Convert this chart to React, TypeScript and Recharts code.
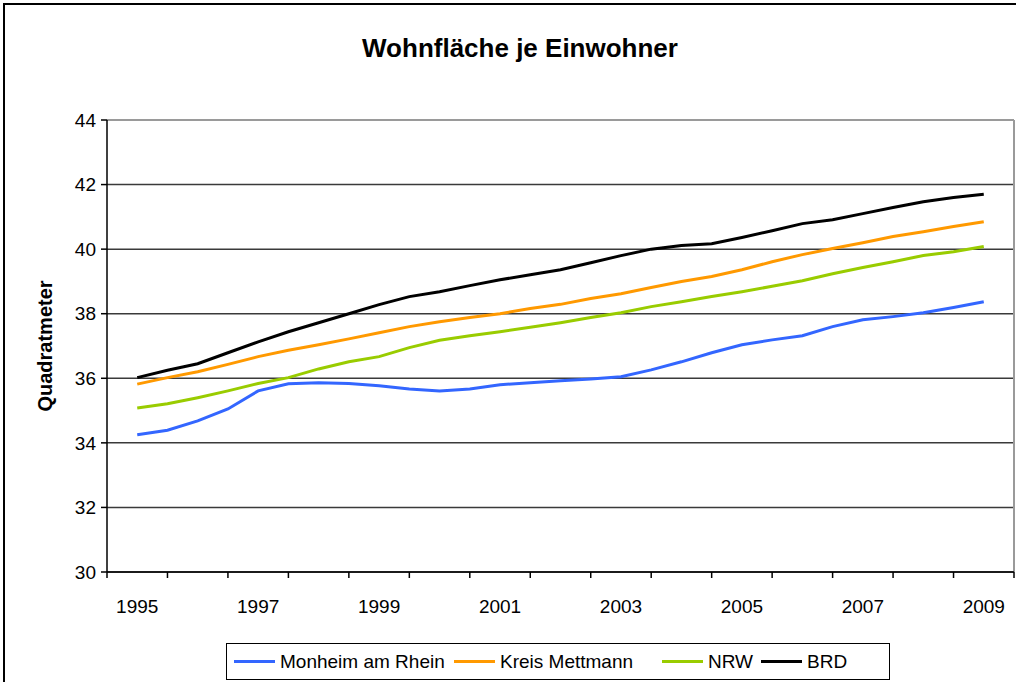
import { CartesianGrid, Line, LineChart, ReferenceLine, XAxis, YAxis } from 'recharts';

// half-year steps, 1995 .. 2009
const periods = [
  1995, 1995.5, 1996, 1996.5, 1997, 1997.5, 1998, 1998.5, 1999, 1999.5,
  2000, 2000.5, 2001, 2001.5, 2002, 2002.5, 2003, 2003.5, 2004, 2004.5,
  2005, 2005.5, 2006, 2006.5, 2007, 2007.5, 2008, 2008.5, 2009
];

const monheim = [
  34.25, 34.39, 34.68, 35.05, 35.61, 35.83, 35.86, 35.84, 35.77, 35.67,
  35.61, 35.67, 35.8, 35.86, 35.92, 35.98, 36.05, 36.26, 36.51, 36.79,
  37.04, 37.19, 37.32, 37.6, 37.81, 37.91, 38.03, 38.19, 38.37
];
const mettmann = [
  35.82, 36.02, 36.2, 36.43, 36.67, 36.87, 37.04, 37.22, 37.41, 37.6,
  37.75, 37.88, 38.0, 38.16, 38.29, 38.47, 38.62, 38.81, 39.0, 39.15,
  39.36, 39.61, 39.83, 40.02, 40.2, 40.39, 40.54, 40.7, 40.85
];
const nrw = [
  35.08, 35.21, 35.4, 35.61, 35.84, 36.02, 36.29, 36.51, 36.67, 36.95,
  37.18, 37.32, 37.44, 37.58, 37.72, 37.88, 38.03, 38.22, 38.37, 38.53,
  38.68, 38.85, 39.02, 39.24, 39.43, 39.61, 39.8, 39.92, 40.08
];
const brd = [
  36.02, 36.25, 36.45, 36.79, 37.13, 37.44, 37.72, 38.0, 38.28, 38.53,
  38.68, 38.87, 39.05, 39.21, 39.36, 39.58, 39.8, 40.0, 40.11, 40.17,
  40.36, 40.57, 40.79, 40.91, 41.1, 41.29, 41.47, 41.6, 41.7
];

const yTicks = [30, 32, 34, 36, 38, 40, 42, 44];
const yearLabels = [1995, 1997, 1999, 2001, 2003, 2005, 2007, 2009];
const tickMarks = [
  1994.5, 1995.5, 1996.5, 1997.5, 1998.5, 1999.5, 2000.5, 2001.5,
  2002.5, 2003.5, 2004.5, 2005.5, 2006.5, 2007.5, 2008.5, 2009.5
];

const series = [
  { key: 'monheim', name: 'Monheim am Rhein', color: '#3366FF' },
  { key: 'mettmann', name: 'Kreis Mettmann', color: '#FF9900' },
  { key: 'nrw', name: 'NRW', color: '#99CC00' },
  { key: 'brd', name: 'BRD', color: '#000000' }
];

// legend entry offsets inside the legend box
const legendLeft = [7, 227, 435, 534];

const data = periods.map((p, i) => ({
  period: p,
  monheim: monheim[i],
  mettmann: mettmann[i],
  nrw: nrw[i],
  brd: brd[i]
}));

const font = '"Liberation Sans", Arial, sans-serif';

function XTick(props: any) {
  const { x, y, payload } = props;
  const v = payload.value as number;
  const axisY = y - 6;
  if (Number.isInteger(v)) {
    return (
      <text x={x} y={y + 35} textAnchor="middle" fontSize={19} fontFamily={font} fill="#000">
        {v}
      </text>
    );
  }
  return <line x1={x} x2={x} y1={axisY} y2={axisY + 6} stroke="#000" strokeWidth={1.5} />;
}

export default function App() {
  return (
    <div style={{ position: 'absolute', left: 0, top: 0, width: 1016, height: 682, overflow: 'hidden', background: '#fff', fontFamily: font }}>
      <div style={{ position: 'absolute', left: 3, top: 3, width: 1040, height: 700, border: '2px solid #000' }} />
      <div style={{ position: 'absolute', left: 0, width: 1040, top: 33, textAlign: 'center', fontSize: 26, fontWeight: 'bold' }}>
        Wohnfläche je Einwohner
      </div>
      <div
        style={{
          position: 'absolute', left: 45, top: 346, fontSize: 20, fontWeight: 'bold', whiteSpace: 'nowrap',
          transform: 'translate(-50%, -50%) rotate(-90deg)'
        }}
      >
        Quadratmeter
      </div>
      <div style={{ position: 'absolute', left: 0, top: 0 }}>
        <LineChart width={1016} height={682} data={data} margin={{ top: 120, right: 2, bottom: 70, left: 0 }}>
          <CartesianGrid vertical={false} stroke="#3a3a3a" strokeWidth={1.5} />
          <XAxis
            dataKey="period"
            type="number"
            domain={[1994.5, 2009.5]}
            ticks={[...tickMarks, ...yearLabels].sort((a, b) => a - b)}
            interval={0}
            height={40}
            tickLine={false}
            tickSize={6}
            tickMargin={0}
            tick={<XTick />}
            axisLine={{ stroke: '#000', strokeWidth: 1.5 }}
          />
          <YAxis
            domain={[30, 44]}
            ticks={yTicks}
            interval={0}
            width={107}
            tickSize={6}
            tickMargin={5}
            tick={{ fill: '#000', fontSize: 19, fontFamily: font }}
            tickLine={{ stroke: '#000', strokeWidth: 1.5 }}
            axisLine={{ stroke: '#000', strokeWidth: 1.5 }}
          />
          <ReferenceLine y={44} stroke="#9a9a9a" strokeWidth={2} />
          <ReferenceLine x={2009.5} stroke="#9a9a9a" strokeWidth={2} />
          {series.map((s) => (
            <Line
              key={s.key}
              dataKey={s.key}
              name={s.name}
              type="linear"
              stroke={s.color}
              strokeWidth={3}
              dot={false}
              isAnimationActive={false}
            />
          ))}
        </LineChart>
      </div>
      <div
        style={{
          position: 'absolute', left: 226, top: 643, width: 664, height: 37, boxSizing: 'border-box',
          border: '1px solid #000', fontSize: 19
        }}
      >
        {series.map((s, i) => (
          <div key={s.key} style={{ position: 'absolute', left: legendLeft[i], top: 0, height: 35, display: 'flex', alignItems: 'center' }}>
            <span style={{ display: 'inline-block', width: 41, height: 3, background: s.color, marginRight: 5 }} />
            <span>{s.name}</span>
          </div>
        ))}
      </div>
    </div>
  );
}
